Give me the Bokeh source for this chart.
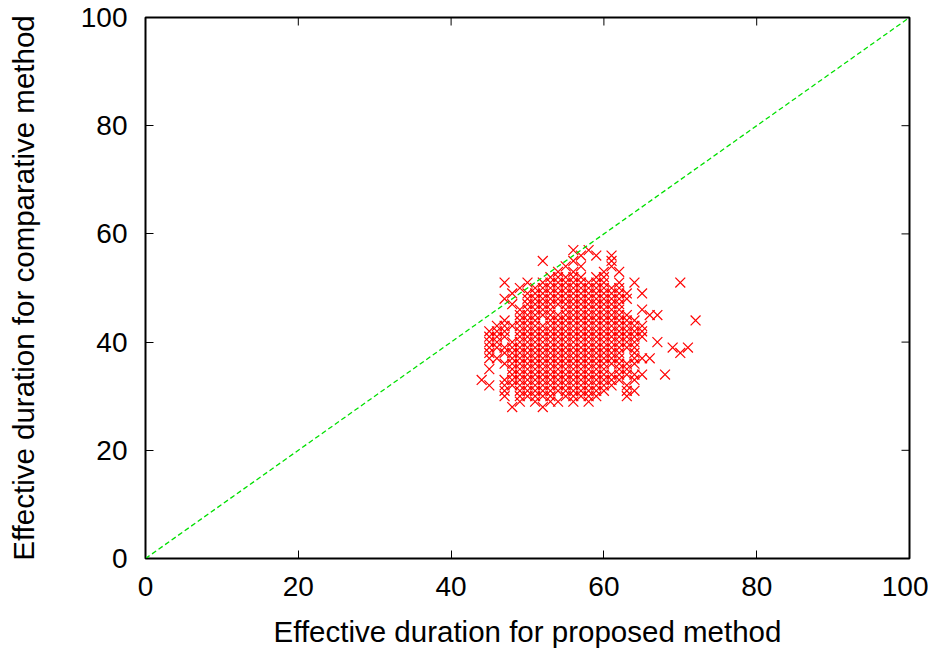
import math
from bokeh.plotting import figure
from bokeh.models import Range1d, FixedTicker
from bokeh.embed import file_html
from bokeh.resources import INLINE

# ---- data ----
tick_values = [0, 20, 40, 60, 80, 100]
diag_x = [0, 100]
diag_y = [0, 100]

# comparative-method duration levels (y) and proposed-method durations (x) at each level
levels = [57, 56, 55, 54, 53, 52, 51, 50, 49, 48, 47, 46, 45, 44, 43, 42,
          41, 40, 39, 38, 37, 36, 35, 34, 33, 32, 31, 30, 29, 28]
row57 = [56, 58]
row56 = [57, 59, 61]
row55 = [52, 56, 61]
row54 = [55, 57, 61]
row53 = [54, 56, 60, 62]
row52 = [53, 54, 55, 56, 57, 59, 60]
row51 = [47, 50, 52, 53, 54, 55, 56, 57, 58, 59, 60, 62, 64, 70]
row50 = [49, 51, 52, 53, 54, 55, 56, 57, 58, 59, 60, 61, 62]
row49 = [48, 50, 51, 52, 53, 54, 55, 56, 57, 58, 59, 60, 61, 62, 63, 65]
row48 = [47, 50, 51, 52, 53, 54, 55, 56, 57, 58, 59, 60, 61, 62, 63]
row47 = [48, 50, 51, 52, 53, 54, 55, 56, 57, 58, 59, 60, 61, 62]
row46 = [49, 50, 51, 52, 53, 55, 56, 57, 58, 59, 60, 61, 62, 65]
row45 = [49, 50, 51, 52, 53, 54, 55, 56, 57, 58, 59, 60, 61, 62, 63, 66, 67]
row44 = [47, 49, 50, 51, 53, 54, 55, 56, 57, 58, 59, 60, 61, 62, 63, 64, 72]
row43 = [46, 47, 48, 49, 50, 51, 52, 53, 54, 55, 56, 57, 58, 59, 60, 61, 62, 63, 64, 65]
row42 = [45, 46, 47, 49, 50, 51, 52, 53, 54, 55, 56, 57, 58, 59, 60, 61, 62, 63, 64, 65]
row41 = [45, 46, 47, 49, 50, 51, 52, 53, 54, 55, 56, 57, 58, 59, 60, 61, 62, 63, 64, 65]
row40 = [45, 46, 48, 49, 50, 51, 52, 53, 54, 55, 56, 57, 58, 59, 60, 61, 62, 63, 64, 67]
row39 = [45, 46, 47, 48, 49, 50, 51, 52, 53, 54, 55, 56, 57, 58, 59, 60, 61, 62, 63, 64, 69, 71]
row38 = [45, 47, 48, 49, 50, 51, 52, 53, 54, 55, 56, 57, 58, 59, 60, 61, 62, 64, 70]
row37 = [45, 46, 48, 49, 50, 51, 52, 53, 54, 55, 56, 57, 58, 59, 60, 61, 62, 64, 65, 66]
row36 = [47, 48, 49, 50, 51, 52, 53, 54, 55, 56, 57, 58, 59, 60, 61, 62, 63, 64]
row35 = [45, 48, 49, 50, 51, 52, 53, 54, 55, 56, 57, 58, 59, 60, 62, 63]
row34 = [48, 49, 50, 51, 52, 53, 54, 55, 56, 57, 58, 59, 60, 61, 62, 63, 64, 65, 68]
row33 = [44, 47, 48, 49, 50, 51, 52, 53, 54, 55, 56, 57, 58, 59, 60, 61, 62, 64]
row32 = [45, 47, 48, 49, 50, 51, 52, 53, 54, 55, 56, 57, 58, 59, 60, 61, 63]
row31 = [47, 49, 50, 51, 52, 53, 54, 55, 56, 57, 58, 59, 60, 63, 64]
row30 = [47, 49, 50, 51, 52, 53, 55, 56, 57, 58, 59, 63]
row29 = [49, 51, 53, 54, 56, 58]
row28 = [48, 52]

rows = [row57, row56, row55, row54, row53, row52, row51, row50, row49, row48,
        row47, row46, row45, row44, row43, row42, row41, row40, row39, row38,
        row37, row36, row35, row34, row33, row32, row31, row30, row29, row28]

xs, ys = [], []
for lvl, row in zip(levels, rows):
    xs.extend(row)
    ys.extend([lvl] * len(row))

FONT = "Liberation Sans"
X_MIN, X_MAX = 0, 100
Y_MIN, Y_MAX = 0, 100

p = figure(width=928, height=650, output_backend="svg", toolbar_location=None,
           x_range=Range1d(X_MIN, X_MAX), y_range=Range1d(Y_MIN, Y_MAX),
           min_border_left=145, min_border_right=19, min_border_top=17,
           min_border_bottom=88)
p.background_fill_color = "white"
p.border_fill_color = "white"
p.outline_line_color = "black"
p.outline_line_width = 2
p.xgrid.visible = False
p.ygrid.visible = False

for ax in (p.xaxis[0], p.yaxis[0]):
    ax.ticker = FixedTicker(ticks=tick_values)
    ax.major_tick_in = 8
    ax.major_tick_out = 0
    ax.minor_tick_in = 0
    ax.minor_tick_out = 0
    ax.major_tick_line_color = "black"
    ax.major_tick_line_width = 1
    ax.axis_line_color = None
    ax.major_label_text_font = FONT
    ax.major_label_text_font_size = "28px"
    ax.major_label_text_color = "black"
    ax.axis_label_text_font = FONT
    ax.axis_label_text_font_size = "29.5px"
    ax.axis_label_text_font_style = "normal"
    ax.axis_label_text_color = "black"

p.xaxis.axis_label = "Effective duration for proposed method"
p.yaxis.axis_label = "Effective duration for comparative method"
p.xaxis.major_label_standoff = 18
p.xaxis.axis_label_standoff = 16
p.yaxis.major_label_standoff = 18
p.yaxis.axis_label_standoff = 38

# mirrored ticks on the top and right edges (gnuplot style), from the tick values
p.ray(x=tick_values, y=[Y_MAX] * len(tick_values), length=8, length_units="screen",
      angle=-math.pi / 2, line_color="black", line_width=1)
p.ray(x=[X_MAX] * len(tick_values), y=tick_values, length=8, length_units="screen",
      angle=math.pi, line_color="black", line_width=1)

p.scatter(xs, ys, marker="x", size=14, line_color="#ff0000", line_width=1.2)
p.line(diag_x, diag_y, line_color="#00e000", line_dash="5 3", line_width=1.3)

open("out.html", "w").write(file_html(p, INLINE))
